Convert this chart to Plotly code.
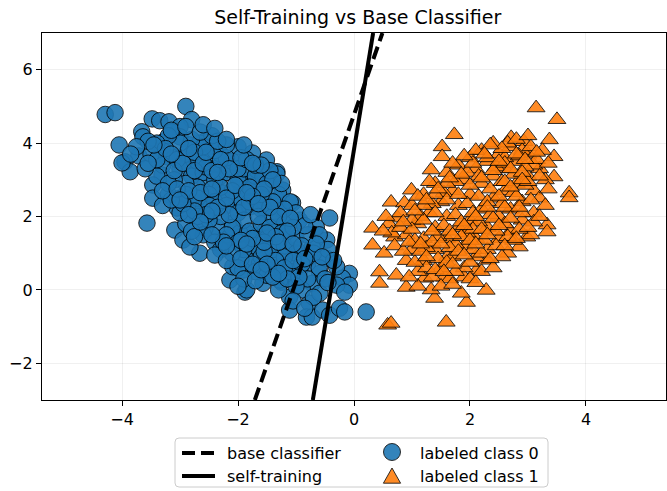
import plotly.graph_objects as go

# ---- data ----
class0_x = [-4.29, -4.12, -2.90, -3.48, -3.35, -3.19, -2.80, -3.66, -3.64, -3.00, -3.29, -3.00, -2.83, -4.05,
            -3.71, -3.95, -3.86, -4.00, -3.23, -3.31, -3.47, -3.47, -3.57, -3.05, -3.09, -2.95, -2.66, -2.83,
            -2.14, -1.88, -1.33, -2.00, -1.51, -1.75, -2.80, -2.66, -2.54, -2.44, -2.32, -2.57, -2.83, -2.54,
            -2.26, -2.02, -1.80, -1.68, -1.97, -1.33, -1.57, -1.23, -1.80, -2.09, -2.37, -2.57, -2.14, -1.85,
            -1.57, -1.33, -1.68, -1.45, -2.09, -1.85, -1.23, -1.33, -1.57, -1.25, -1.11, -3.14, -2.66,
            -1.33, -0.42, -0.65, -0.47, -0.72, -0.47, -0.80, -0.08, -0.20, -0.08, -0.30, -0.16, -1.11, -1.11,
            -0.77, -0.82, -0.72, -0.54, -0.42, -0.25, -0.16, 0.21, -0.94, -0.99, -0.99, -1.28, -1.57, -1.85,
            -1.92, -1.63, -1.28, -1.23, -1.40, -1.68, -1.97, -1.06, -1.23, -1.57, -1.80, -2.02, -1.97, -1.57,
            -0.77, -0.94, -0.59, -0.72, -0.89, -0.59, -0.30,
            -3.30, -3.10, -2.90, -2.70, -2.50, -2.30, -3.00, -2.80, -2.60, -2.40, -2.20, -2.00, -2.10, -2.30,
            -2.50, -2.70, -2.90, -3.10, -3.20, -3.00, -2.80, -2.60, -2.40, -2.20, -2.00, -1.80, -1.60, -1.90,
            -2.10, -2.30, -2.50, -2.70, -2.90, -2.60, -2.40, -2.20, -2.00, -1.80, -1.60, -1.40, -1.20, -1.50,
            -1.70, -1.90, -2.10, -2.30, -1.60, -1.40, -1.20, -1.00, -0.80, -1.00, -1.20, -1.40, -1.70, -2.00,
            -1.90, -1.50, -1.10, -0.90, -0.70, -0.60, -0.80, -1.00, -1.30, -0.50, -2.30, -2.10, -1.90, -1.70,
            -1.50, -1.30, -1.10, -1.00, -1.20, -1.40, -1.60, -1.80, -2.00, -2.20, -2.40, -2.60, -2.80, -3.00,
            -3.20, -3.40, -3.50, -3.30, -3.40, -3.60, -3.20, -2.90, -2.70, -2.50, -3.00, -2.80, -3.30, -2.45,
            -2.20, -1.85, -1.45, -1.70, -1.25, -0.85, -0.75, -0.60, -0.45, -0.35, -2.35, -2.55, -2.75, -3.05,
            -3.15, -2.90, -2.65, -1.65, -1.45, -1.25, -1.05, -1.35, -1.55,
            -3.55, -3.40, -3.25, -3.10, -2.95, -2.75, -2.60, -2.45, -2.30, -2.15, -1.95, -1.60, -1.40, -1.55,
            -1.75, -1.90, -2.15, -2.35, -2.55, -2.75, -2.95, -3.15, -3.30, -3.05, -2.85, -2.65, -2.45, -2.20,
            -1.45, -1.30, -1.10, -1.15, -1.35, -1.55, -1.75, -1.95, -2.25, -2.45, -2.75, -2.40, -2.20, -1.95,
            -1.75, -1.50, -1.20, -1.05, -0.90, -0.65, -0.55, -0.95, -1.15, -1.40, -1.70, -2.00, -0.70, -0.45,
            -1.05, -0.85, -3.75, -3.55, -3.85, -2.60, -2.40, -2.20, -1.90, -1.75,
            -3.45, -3.15, -2.85, -2.55, -2.35, -2.05, -1.85, -1.65, -2.45, -2.65, -2.85, -3.00, -2.20, -1.85,
            -1.50, -1.30, -1.05, -0.85, -1.60, -1.30]
class0_y = [4.78, 4.83, 5.00, 4.66, 4.61, 4.58, 4.64, 4.31, 4.17, 4.45, 4.03, 4.17, 3.95, 3.95,
            3.65, 3.49, 3.22, 3.46, 3.63, 3.13, 2.86, 2.50, 1.82, 2.23, 1.63, 1.36, 1.00, 1.17,
            0.27, -0.06, 3.22, 3.90, 3.54, 3.73, 3.35, 3.63, 4.09, 3.90, 3.08, 2.91, 2.53, 2.45,
            2.64, 2.45, 3.00, 3.27, 2.91, 2.45, 2.26, 2.17, 2.26, 1.82, 1.71, 1.68, 1.44, 1.55,
            1.55, 1.71, 1.00, 1.09, 0.63, 0.81, 1.36, 0.63, 0.45, 0.21, 0.81, 4.31, 4.00,
            3.16, 1.96, 1.71, 1.36, 1.17, 0.86, 0.72, 0.45, 0.32, 0.13, 0.13, -0.06, -0.20, -0.55,
            -0.36, -0.74, -0.74, -0.55, -0.69, -0.50, -0.60, -0.60, 1.90, 1.09, 0.27, 0.27, 0.18, 0.00,
            0.54, 0.72, 0.81, 1.44, 1.27, 1.44, 1.55, 2.37, 2.72, 2.53, 2.72, 2.53, 3.08, 3.08,
            0.90, 0.54, 0.45, 0.18, 0.00, -0.09, 0.63,
            3.80, 3.60, 3.70, 3.50, 3.60, 3.40, 3.30, 3.10, 3.20, 3.00, 3.20, 3.00, 2.70, 2.80,
            2.60, 2.80, 2.90, 3.00, 2.60, 2.50, 2.30, 2.20, 2.40, 2.30, 2.10, 2.40, 2.20, 1.90,
            1.70, 2.00, 1.90, 2.00, 1.80, 1.50, 1.30, 1.50, 1.30, 1.60, 1.80, 2.00, 1.80, 1.40,
            1.20, 1.10, 1.00, 1.10, 0.90, 1.10, 1.20, 1.40, 1.50, 1.00, 0.90, 0.60, 0.50, 0.60,
            0.30, 0.40, 0.50, 0.70, 1.00, 0.60, 0.30, 0.10, 0.00, 0.30, 3.70, 3.50, 3.30, 3.10,
            2.90, 2.60, 2.40, 2.10, 2.20, 2.40, 2.60, 2.80, 3.30, 3.60, 3.80, 3.90, 4.10, 4.00,
            4.20, 4.00, 3.70, 3.40, 3.10, 3.30, 2.90, 2.60, 2.50, 2.30, 2.10, 1.60, 2.30, 4.20,
            3.95, 3.55, 3.25, 3.40, 2.90, 1.75, 2.05, 1.50, 1.10, 0.80, 4.05, 3.35, 3.75, 3.55,
            4.35, 4.45, 4.30, 2.00, 1.70, 1.55, 1.70, 0.80, 1.05,
            4.05, 3.55, 3.85, 3.25, 3.45, 3.25, 3.45, 3.25, 3.55, 3.30, 3.60, 3.40, 3.00, 2.75,
            2.55, 2.25, 2.05, 2.25, 2.05, 2.15, 2.35, 2.45, 2.70, 2.75, 2.70, 2.65, 2.75, 2.50,
            2.25, 2.00, 1.95, 1.60, 1.45, 1.30, 1.40, 1.35, 1.30, 1.50, 1.45, 0.95, 0.80, 0.85,
            0.70, 0.70, 0.60, 0.80, 1.20, 1.25, 0.90, 0.35, 0.30, 0.35, 0.25, 0.10, -0.20, 0.20,
            -0.30, -0.50, 3.90, 3.45, 3.70, 4.50, 4.40, 4.10, 3.95, 3.45,
            3.95, 3.70, 3.85, 3.75, 3.20, 2.85, 2.65, 2.35, 2.15, 1.85, 2.05, 2.45, 1.20, 1.25,
            1.55, 1.30, 1.25, 0.85, 0.55, 0.45]

class1_x = [3.14, 3.50, 1.73, 1.52, 1.52, 1.33, 0.99, 0.64, 0.87, 0.32, 0.32, 0.52, 0.70, 0.75,
            0.44, 0.44, 0.73, 0.90, 0.58, 0.64, 1.59, 1.39, 1.94, 2.28, 2.71, 2.93, 3.37, 3.45,
            3.45, 3.71, 3.71, 3.33, 3.33, 2.98, 2.85, 2.30, 2.12, 1.90, 1.56, 1.22, 1.33, 1.85, 1.61,
            0.90, 1.10, 1.30, 1.50, 1.70, 1.90, 2.10, 2.30, 2.50, 2.70,
            1.00, 1.20, 1.40, 1.60, 1.80, 2.00, 2.20, 2.40, 2.60, 2.80, 3.00,
            1.20, 1.40, 1.60, 1.80, 2.00, 2.20, 2.40, 2.60, 2.80, 3.00, 3.20,
            1.50, 1.70, 1.90, 2.10, 2.30, 2.50, 2.70, 2.90, 3.10,
            1.90, 2.10, 2.30, 2.50, 2.70, 2.90, 3.10,
            0.70, 0.90, 1.10, 0.60, 0.80, 1.00, 1.20, 1.40, 1.60, 1.80, 2.00,
            2.20, 2.40, 2.60, 2.90, 3.10, 3.30, 3.20, 2.90, 2.60,
            1.35, 1.65, 1.05, 1.25, 1.45, 1.75, 1.95, 2.15, 2.35, 2.55, 2.75, 2.95, 1.55, 1.75, 1.95,
            2.15, 2.35, 2.55, 2.75, 2.95, 3.15,
            1.15, 1.35, 1.55, 1.75, 1.95, 2.15, 2.45, 2.85, 3.05, 2.65, 2.05, 2.45, 2.65, 2.20, 2.00,
            2.75, 3.05,
            1.00, 1.20, 1.40, 1.60, 1.85, 2.05, 2.30, 2.55, 2.80, 3.00, 3.25, 3.35, 3.20, 3.35, 3.30,
            3.10, 2.85, 2.65, 2.45, 2.25, 2.05, 1.85, 1.65, 1.45, 1.25, 1.05, 0.85, 0.65, 0.55, 0.80,
            1.00, 1.20, 1.40, 1.60, 1.80, 2.00, 2.20, 2.40, 2.60, 2.80, 3.00, 2.80, 2.60, 2.40, 2.20,
            2.00, 1.80, 1.60, 1.40, 1.75, 2.00, 2.20, 2.40, 2.55, 1.10, 0.95, 1.50, 1.70, 2.10, 2.60,
            2.30, 2.05, 1.85, 1.65, 1.35, 1.15, 0.50, 2.95, 3.15, 2.35, 2.10, 1.90, 1.70, 1.30, 1.10,
            0.95, 1.15, 1.35, 0.85, 1.05, 1.25, 1.45, 1.65, 2.25, 2.50, 2.70, 2.90, 3.05, 2.85, 2.70,
            2.50, 2.30, 2.10, 1.90, 1.70, 1.55, 2.35, 2.60, 2.80, 3.00, 3.20, 1.25, 1.50, 1.70, 1.90,
            2.10, 2.30, 2.50, 2.70, 2.90]
class1_y = [4.96, 4.64, 4.23, 3.90, 3.63, 3.27, 2.72, 2.39, 2.37, 1.68, 1.22, 1.00, 1.44, 1.96,
            0.49, 0.18, 0.40, 0.07, -0.96, -0.91, -0.88, -0.23, -0.34, -0.01, 4.15, 4.04, 4.09, 3.63,
            3.08, 2.64, 2.51, 1.77, 1.58, 1.44, 1.17, 0.81, 0.54, 0.35, 0.35, 0.32, 0.00, -0.09, 0.90,
            1.50, 1.80, 2.10, 2.40, 2.70, 3.00, 3.30, 3.50, 3.70, 3.90,
            1.10, 1.40, 1.70, 2.00, 2.30, 2.60, 2.90, 3.10, 3.30, 3.50, 3.70,
            0.80, 1.10, 1.40, 1.70, 1.90, 2.20, 2.50, 2.70, 2.90, 3.10, 3.30,
            0.60, 0.90, 1.20, 1.40, 1.70, 2.00, 2.20, 2.40, 2.70,
            0.60, 0.90, 1.10, 1.40, 1.60, 1.90, 2.10,
            1.20, 0.80, 0.50, 1.80, 2.10, 2.30, 2.60, 2.90, 3.20, 3.40, 3.60,
            3.80, 4.00, 3.60, 3.80, 3.40, 3.00, 2.50, 2.10, 1.80,
            0.35, 0.30, 1.35, 1.15, 1.45, 1.25, 1.55, 1.85, 2.05, 2.35, 2.65, 2.85, 1.75, 2.05, 2.35,
            2.55, 2.75, 2.95, 3.15, 3.35, 3.55,
            2.00, 2.35, 2.65, 2.95, 3.20, 3.10, 3.35, 3.65, 3.90, 4.00, 1.10, 1.20, 1.00, 0.50, 0.30,
            1.35, 1.50,
            1.90, 2.30, 2.60, 2.90, 3.15, 3.45, 3.60, 3.85, 4.10, 4.20, 3.80, 3.45, 3.10, 2.75, 2.30,
            1.85, 1.65, 1.45, 1.60, 1.35, 1.65, 1.45, 1.15, 0.85, 0.60, 0.75, 1.05, 1.55, 2.00, 1.70,
            1.65, 1.90, 2.10, 2.45, 2.60, 2.85, 3.05, 3.25, 3.45, 3.70, 2.95, 2.55, 2.25, 1.95, 1.65,
            1.35, 1.05, 0.75, 0.55, 0.50, 0.75, 1.00, 0.60, 0.90, 0.10, 0.35, 0.10, 0.15, 0.20, 2.95,
            2.40, 2.10, 1.85, 1.60, 1.30, 1.05, 1.60, 3.55, 3.75, 3.95, 3.80, 3.65, 3.45, 2.95, 2.55,
            1.30, 1.25, 1.60, 1.85, 2.15, 2.45, 2.75, 3.05, 3.70, 3.50, 3.30, 3.20, 2.45, 2.25, 1.95,
            1.75, 1.50, 1.25, 0.95, 0.70, 0.50, 0.85, 1.20, 1.40, 1.70, 2.00, 0.90, 1.25, 1.50, 1.75,
            2.00, 2.25, 2.55, 2.80, 3.00]

# decision boundaries: x positions where each line meets y = -3 and y = 7
line_y = [-3, 7]
base_x = [-1.71, 0.49]
self_x = [-0.71, 0.33]

x_ticks = [-4, -2, 0, 2, 4]
x_ticklabels = ["\u22124", "\u22122", "0", "2", "4"]
y_ticks = [-2, 0, 2, 4, 6]
y_ticklabels = ["\u22122", "0", "2", "4", "6"]

legend_labels = ["base classifier", "self-training", "labeled class 0", "labeled class 1"]

BLUE = "#1f77b4"
ORANGE = "#ff7f0e"
FONT = "DejaVu Sans"

W, H = 667, 491
ML, MR, MT, MB = 42, 1, 33, 91
PW, PH = W - ML - MR, H - MT - MB


def px(xpix):
    """figure pixel column -> paper fraction"""
    return (xpix - ML) / PW


def py(ypix):
    """figure pixel row -> paper fraction"""
    return (H - MB - ypix) / PH


fig = go.Figure()
fig.add_trace(go.Scatter(
    x=class0_x, y=class0_y, mode="markers", name=legend_labels[2], showlegend=False,
    marker=dict(symbol="circle", size=16.5, color=BLUE, opacity=0.9,
                line=dict(color="black", width=0.9))))
fig.add_trace(go.Scatter(
    x=class1_x, y=class1_y, mode="markers", name=legend_labels[3], showlegend=False,
    marker=dict(symbol="triangle-up", size=15.5, color=ORANGE, opacity=0.9,
                line=dict(color="black", width=0.9))))
fig.add_trace(go.Scatter(
    x=base_x, y=line_y, mode="lines", name=legend_labels[0], showlegend=False,
    line=dict(color="black", width=4, dash="13px,6px")))
fig.add_trace(go.Scatter(
    x=self_x, y=line_y, mode="lines", name=legend_labels[1], showlegend=False,
    line=dict(color="black", width=4)))

axis_common = dict(
    showline=True, linecolor="black", linewidth=1.2, mirror=True,
    ticks="outside", ticklen=5, tickwidth=1.2, tickcolor="black",
    showgrid=True, gridcolor="rgba(0,0,0,0.06)", gridwidth=1,
    zeroline=False, automargin=False,
    tickfont=dict(family=FONT, size=16, color="black"),
)
fig.update_xaxes(range=[-5.38, 5.38], tickvals=x_ticks, ticktext=x_ticklabels, **axis_common)
fig.update_yaxes(range=[-3, 7], tickvals=y_ticks, ticktext=y_ticklabels, **axis_common)

# ---- legend drawn by hand below the axes (two columns, framed box) ----
bx0, bx1, by0, by1, rad = px(175), px(548), py(487), py(438), 4
rx, ry = rad / PW, rad / PH
box_path = (f"M{bx0 + rx},{by0} L{bx1 - rx},{by0} Q{bx1},{by0} {bx1},{by0 + ry} "
            f"L{bx1},{by1 - ry} Q{bx1},{by1} {bx1 - rx},{by1} L{bx0 + rx},{by1} "
            f"Q{bx0},{by1} {bx0},{by1 - ry} L{bx0},{by0 + ry} Q{bx0},{by0} {bx0 + rx},{by0} Z")

row1, row2 = 453, 476
shapes = [
    dict(type="path", xref="paper", yref="paper", path=box_path,
         line=dict(color="#cccccc", width=1), fillcolor="rgba(255,255,255,0.8)", layer="above"),
    dict(type="line", xref="paper", yref="paper", x0=px(182), x1=px(215), y0=py(row1), y1=py(row1),
         line=dict(color="black", width=4, dash="13px,6px")),
    dict(type="line", xref="paper", yref="paper", x0=px(182), x1=px(215), y0=py(row2), y1=py(row2),
         line=dict(color="black", width=4)),
    dict(type="circle", xref="paper", yref="paper", xsizemode="pixel", ysizemode="pixel",
         xanchor=px(392), yanchor=py(row1 - 1), x0=-8.5, x1=8.5, y0=-8.5, y1=8.5,
         fillcolor=BLUE, opacity=0.9, line=dict(color="black", width=0.9)),
    dict(type="path", xref="paper", yref="paper", xsizemode="pixel", ysizemode="pixel",
         xanchor=px(392), yanchor=py(row2 + 1), path="M-8.6,-6.2 L8.6,-6.2 L0,9 Z",
         fillcolor=ORANGE, opacity=0.9, line=dict(color="black", width=0.9)),
]
annotations = []
for lab, xx, yy in [(legend_labels[0], 225, row1), (legend_labels[1], 225, row2),
                    (legend_labels[2], 418, row1), (legend_labels[3], 418, row2)]:
    annotations.append(dict(text=lab, xref="paper", yref="paper", x=px(xx), y=py(yy),
                            xanchor="left", yanchor="middle", showarrow=False,
                            font=dict(family=FONT, size=16, color="black")))

fig.update_layout(
    width=W, height=H,
    margin=dict(l=ML, r=MR, t=MT, b=MB),
    paper_bgcolor="white", plot_bgcolor="white",
    showlegend=False,
    title=dict(text="Self-Training vs Base Classifier", xref="paper", x=0.506, xanchor="center",
               y=0.965, yanchor="middle", font=dict(family=FONT, size=19, color="black")),
    shapes=shapes,
    annotations=annotations,
)

# remove the browser's default 8px page margin so the figure sits at the window's corner
fig.write_html("out.html", config={"displayModeBar": False},
               post_script="document.body.style.margin='0';document.body.style.padding='0';")
